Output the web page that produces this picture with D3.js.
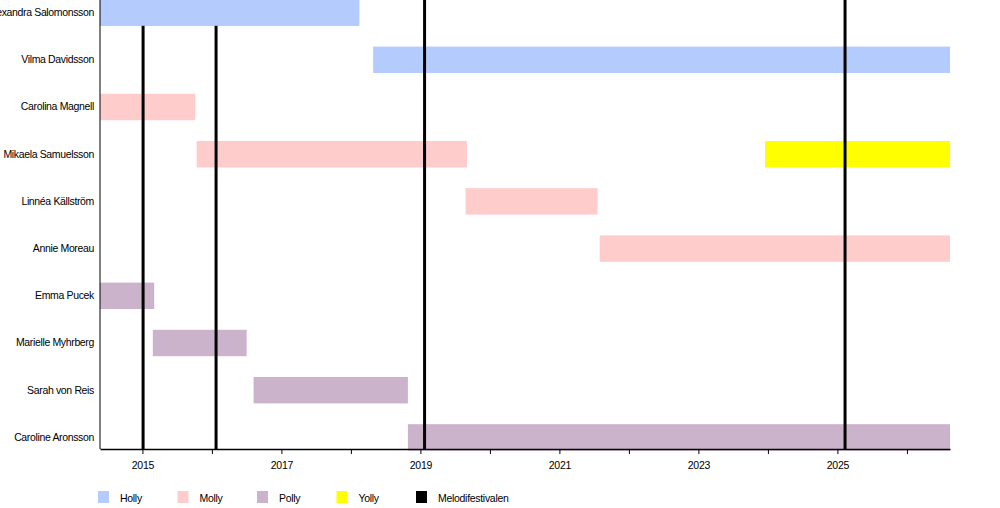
<!DOCTYPE html>
<html><head><meta charset="utf-8">
<script src="https://cdn.jsdelivr.net/npm/d3@7"></script>
<style>body{margin:0;background:#fff}svg{font-family:"Liberation Sans",Arial,sans-serif}</style>
</head><body><svg width="1000" height="508"></svg>
<script>
const members = ["Alexandra Salomonsson","Vilma Davidsson","Carolina Magnell","Mikaela Samuelsson","Linnéa Källström","Annie Moreau","Emma Pucek","Marielle Myhrberg","Sarah von Reis","Caroline Aronsson"];
const START = 2014.39, END = 2026.62;
// [member, role, from, to]
const spans = [
  ["Alexandra Salomonsson","Holly",START,2018.12],
  ["Vilma Davidsson","Holly",2018.32,END],
  ["Carolina Magnell","Molly",START,2015.76],
  ["Mikaela Samuelsson","Molly",2015.78,2019.67],
  ["Mikaela Samuelsson","Yolly",2023.96,END],
  ["Linnéa Källström","Molly",2019.65,2021.55],
  ["Annie Moreau","Molly",2021.58,END],
  ["Emma Pucek","Polly",START,2015.17],
  ["Marielle Myhrberg","Polly",2015.15,2016.5],
  ["Sarah von Reis","Polly",2016.6,2018.82],
  ["Caroline Aronsson","Polly",2018.82,END]
];
const festivals = [2015.01,2016.06,2019.06,2025.11];
const roles = ["Holly","Molly","Polly","Yolly","Melodifestivalen"];
const colors = ["#b3cbfd","#ffcccc","#ccb3cc","#ffff00","#000000"];

const svg = d3.select("svg");
const x = d3.scaleLinear().domain([START,END]).range([100,950]);
const y = d3.scaleBand().domain(members).range([-11,461]).paddingInner(0.44).paddingOuter(0.22);
const color = d3.scaleOrdinal().domain(roles).range(colors);

svg.selectAll(".bar").data(spans).enter().append("rect")
  .attr("x",d=>x(d[2])).attr("width",d=>x(d[3])-x(d[2]))
  .attr("y",d=>y(d[0])).attr("height",y.bandwidth())
  .attr("fill",d=>color(d[1]));

svg.selectAll(".fest").data(festivals).enter().append("line")
  .attr("x1",d=>x(d)).attr("x2",d=>x(d)).attr("y1",0).attr("y2",449)
  .attr("stroke","#000").attr("stroke-width",3);

// re-draw top bar over lines
svg.append("rect").attr("x",x(spans[0][2])).attr("width",x(spans[0][3])-x(spans[0][2]))
  .attr("y",y(members[0])).attr("height",y.bandwidth()).attr("fill",color("Holly"));

const yAxis = svg.append("g").attr("transform","translate(100,0)")
  .call(d3.axisLeft(y).tickSize(0).tickPadding(6));
yAxis.select(".domain").attr("stroke","#000").attr("d","M0,0V449");
yAxis.selectAll("text").attr("font-size",10.5).attr("letter-spacing",-0.35).attr("fill","#000");

const xAxis = svg.append("g").attr("transform","translate(0,449)")
  .call(d3.axisBottom(x).tickValues(d3.range(2015,2027)).tickSize(5).tickSizeOuter(0)
    .tickFormat(d=>d%2===1?d:""));
xAxis.select(".domain").attr("stroke-width",1.5);
xAxis.selectAll("text").attr("font-size",10.5).attr("letter-spacing",-0.3).attr("dy","1.1em");

const leg = svg.append("g").attr("transform","translate(98,491)");
const li = leg.selectAll("g").data(roles).enter().append("g")
  .attr("transform",(d,i)=>`translate(${i*79.5},0)`);
li.append("rect").attr("width",11).attr("height",12).attr("fill",d=>color(d));
li.append("text").attr("x",22).attr("y",10.5).attr("font-size",10.5).attr("letter-spacing",-0.3).text(d=>d);
</script></body></html>
